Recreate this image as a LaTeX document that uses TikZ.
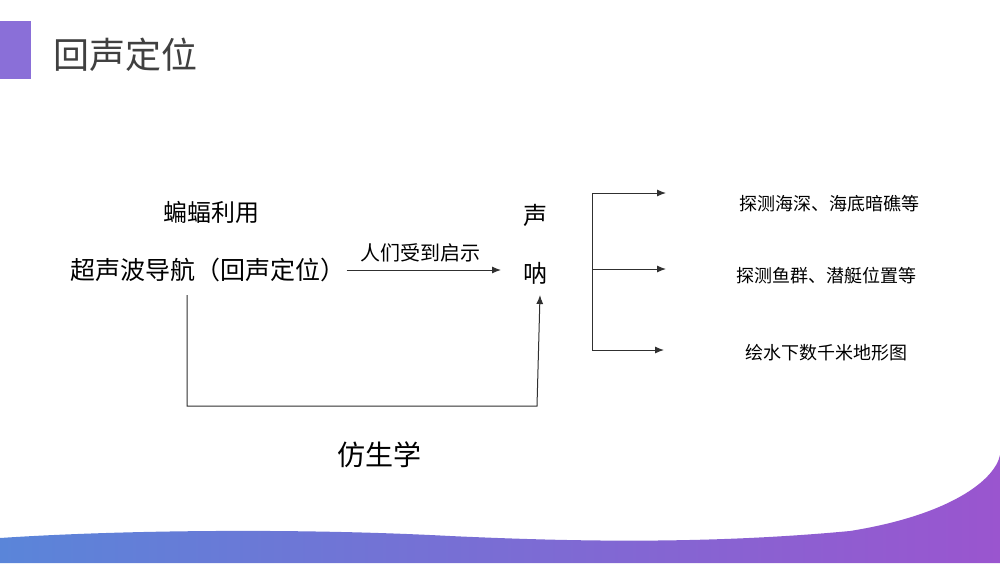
\documentclass[tikz,border=0pt]{standalone}
\usepackage{fontspec}
\newfontfamily\cjk{Noto Sans CJK SC}
\usetikzlibrary{arrows.meta}
\definecolor{wblue}{HTML}{5A85D9}
\definecolor{wpurple}{HTML}{9A55CF}
\definecolor{barcol}{HTML}{8A6FD8}
\definecolor{titlecol}{HTML}{404040}
\definecolor{linecol}{HTML}{303030}
\tikzset{
  txt/.style={inner sep=1pt, text=black, font=\cjk\fontsize{#1}{#1}\selectfont},
  conn/.style={draw=linecol, line width=1pt},
  arr/.style={conn, -{Latex[length=9pt,width=7pt]}}
}
\begin{document}
\begin{tikzpicture}[x=1pt,y=-1pt]
\useasboundingbox (0,0) rectangle (1000,563);
\fill[white] (0,0) rectangle (1000,563);
% bottom wave
\shade[left color=wblue, right color=wpurple]
  (0,538) .. controls (120,530) and (300,528) .. (450,536)
  .. controls (560,541) and (700,545) .. (850,531)
  .. controls (950,515) and (995,480) .. (1000,455)
  -- (1000,563) -- (0,563) -- cycle;
% title bar
\fill[barcol] (0,21) rectangle (31,79);
\node[txt=36, text=titlecol, anchor=west] (title) at (52,55) {回声定位};
% left texts
\node[txt=24] (bat) at (211,212) {蝙蝠利用};
\node[txt=25] (super) at (208,270) {超声波导航（回声定位）};
\node[txt=24] (sheng) at (535,215) {声};
\node[txt=24] (na) at (535,273) {呐};
\node[txt=20] (lbl) at (420,253) {人们受到启示};
\node[txt=28] (bio) at (379,455) {仿生学};
% right texts
\node[txt=18] (r1) at (829,204) {探测海深、海底暗礁等};
\node[txt=18] (r2) at (826,276) {探测鱼群、潜艇位置等};
\node[txt=18] (r3) at (826,353) {绘水下数千米地形图};
% main arrow
\coordinate (aend) at (501,270);
\draw[arr] (super.east |- aend) -- (aend);
% bottom connector
\coordinate (s0) at (187,295);
\coordinate (bl) at (187,406);
\coordinate (br) at (537,406);
\coordinate (tip) at (540,295);
\draw[arr] (s0) -- (bl) -- (br) -- (tip);
% bracket
\coordinate (bt) at (592,193);
\coordinate (bm) at (592,269);
\coordinate (bb) at (592,350);
\coordinate (e1) at (666,193);
\coordinate (e2) at (666,269);
\coordinate (e3) at (664,350);
\draw[conn] (bt) -- (bb);
\draw[arr] (bt) -- (e1);
\draw[arr] (bm) -- (e2);
\draw[arr] (bb) -- (e3);
\end{tikzpicture}
\end{document}
